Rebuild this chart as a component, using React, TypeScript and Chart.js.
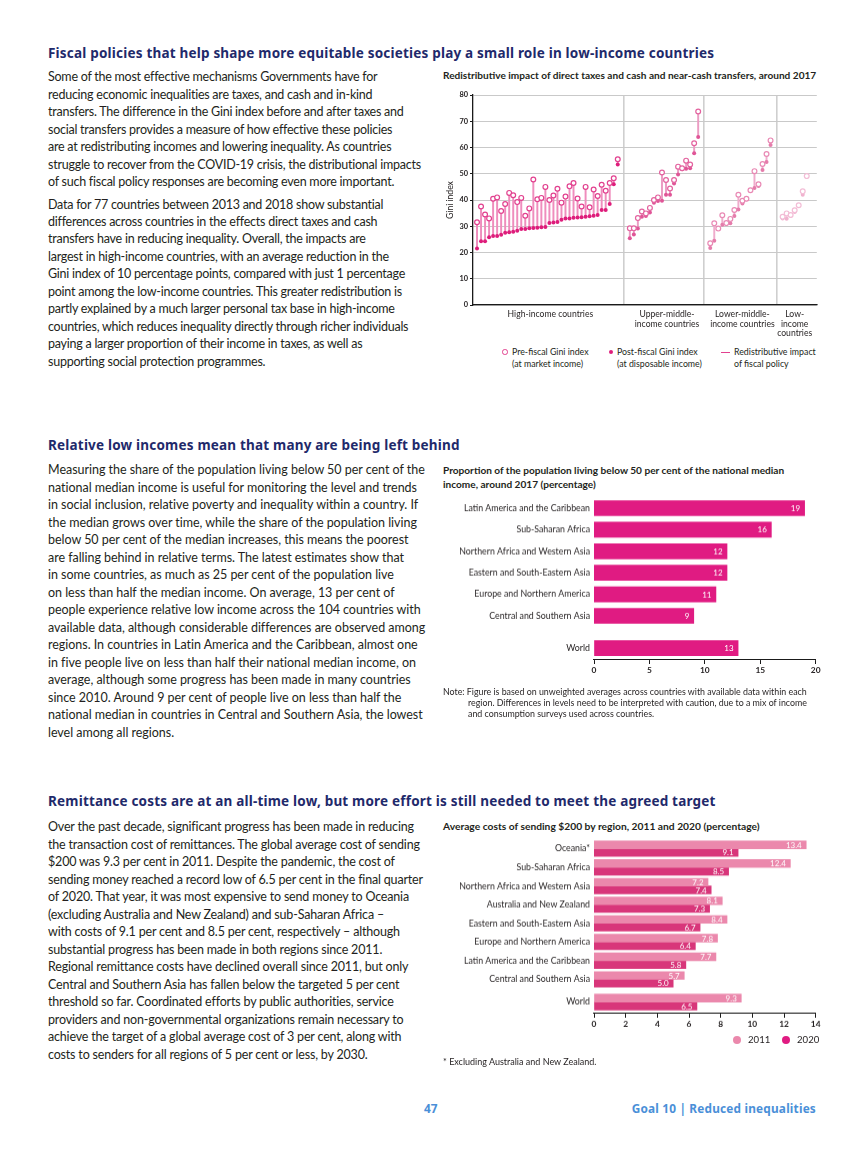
import React, { useEffect, useRef } from 'react';
import { Chart, registerables } from 'chart.js';

Chart.register(...registerables);

const BODY = 'Lato, "Noto Sans", sans-serif';
const HEAD = '"Noto Sans", sans-serif';
const TEXT = '#231f20';
const NAVY = '#1f2a6b';

Chart.defaults.font.family = BODY;
Chart.defaults.color = TEXT;

// ---------- Chart 1: Gini lollipop ----------
const giniGroupLabels = [
  ['High-income countries'],
  ['Upper-middle-', 'income countries'],
  ['Lower-middle-', 'income countries'],
  ['Low-', 'income', 'countries'],
];
const giniYTicks = [0, 10, 20, 30, 40, 50, 60, 70, 80];

const highPre = [31.5, 37.5, 34.5, 33, 40.5, 41, 35.8, 38.5, 42.7, 41.8, 39.2, 40.8, 34, 36.8, 47.8, 40.3, 40.8, 45, 40, 41.7, 44.3, 39, 41.3, 45.2, 46.5, 40.6, 37.5, 45, 37.2, 44, 41.5, 45.8, 43.5, 46.5, 48.3, 55.5];
const highPost = [21.5, 24.3, 24.3, 25.8, 26.3, 26.3, 26.8, 27.5, 27.7, 27.9, 28.3, 29, 29, 29.2, 29.3, 29.4, 29.6, 29.7, 31.2, 31.4, 31.6, 32.5, 33, 33, 33.2, 33.3, 33.4, 33.6, 33.8, 34, 34.3, 36.2, 36.2, 38.5, 46, 53.5];
const upperPre = [29.2, 29.2, 33.1, 35.6, 34.9, 37, 40, 41, 50.5, 47.6, 44.4, 47.6, 52.7, 52.1, 55, 53.5, 61.6, 73.7];
const upperPost = [25.4, 26.9, 29.1, 33.6, 33.9, 35.2, 39, 39.6, 39.7, 42, 42, 46.3, 49.7, 51.7, 51.9, 52.1, 57.8, 64];
const lowerPre = [23.5, 31.1, 29.1, 34.2, 31.2, 32.8, 36.2, 42, 39.7, 40.5, 43.7, 51, 46, 53.7, 57.5, 62.7];
const lowerPost = [21.7, 24.5, 29, 30.6, 30.9, 31.1, 33.9, 36.4, 38.7, 40.3, 43.5, 44.6, 45.3, 51.4, 54.5, 61];
const lowPre = [33.6, 34.9, 34.3, 36.1, 38, 43.3, 49.1];
const lowPost = [33, 32.9, 34, 35.4, 38, 42, 48.8];

const giniColors = [
  { pre: '#e2418f', post: '#de1d7b', line: '#ef8dbd' },
  { pre: '#e3639f', post: '#e05597', line: '#eb9cc3' },
  { pre: '#e98ab5', post: '#e57cab', line: '#efaccc' },
  { pre: '#f3bdd6', post: '#f0b2ce', line: '#f6cfe1' },
];

// ---------- Chart 2: relative low income ----------
const lowIncRegions = [
  'Latin America and the Caribbean',
  'Sub-Saharan Africa',
  'Northern Africa and Western Asia',
  'Eastern and South-Eastern Asia',
  'Europe and Northern America',
  'Central and Southern Asia',
];
const lowIncValues = [19, 16, 12, 12, 11, 9];
const lowIncWorldLabel = ['World'];
const lowIncWorld = [13];
const lowIncTicks = [0, 5, 10, 15, 20];

// ---------- Chart 3: remittance costs ----------
const remitRegions = [
  'Oceania*',
  'Sub-Saharan Africa',
  'Northern Africa and Western Asia',
  'Australia and New Zealand',
  'Eastern and South-Eastern Asia',
  'Europe and Northern America',
  'Latin America and the Caribbean',
  'Central and Southern Asia',
];
const remit2011 = [13.4, 12.4, 7.2, 8.1, 8.4, 7.8, 7.7, 5.7];
const remit2020 = [9.1, 8.5, 7.4, 7.3, 6.7, 6.4, 5.8, 5.0];
const remitWorldLabel = ['World'];
const remitWorld2011 = [9.3];
const remitWorld2020 = [6.5];
const remitTicks = [0, 2, 4, 6, 8, 10, 12, 14];
const remitSeries = ['2011', '2020'];
const C2011 = '#eb88ac';
const C2020 = '#d8367a';
const MAGENTA = '#e01b82';

// ---------- Texts ----------
const h1 = 'Fiscal policies that help shape more equitable societies play a small role in low-income countries';
const p1a = [
  'Some of the most effective mechanisms Governments have for',
  'reducing economic inequalities are taxes, and cash and in-kind',
  'transfers. The difference in the Gini index before and after taxes and',
  'social transfers provides a measure of how effective these policies',
  'are at redistributing incomes and lowering inequality. As countries',
  'struggle to recover from the COVID-19 crisis, the distributional impacts',
  'of such fiscal policy responses are becoming even more important.',
];
const p1b = [
  'Data for 77 countries between 2013 and 2018 show substantial',
  'differences across countries in the effects direct taxes and cash',
  'transfers have in reducing inequality. Overall, the impacts are',
  'largest in high-income countries, with an average reduction in the',
  'Gini index of 10 percentage points, compared with just 1 percentage',
  'point among the low-income countries. This greater redistribution is',
  'partly explained by a much larger personal tax base in high-income',
  'countries, which reduces inequality directly through richer individuals',
  'paying a larger proportion of their income in taxes, as well as',
  'supporting social protection programmes.',
];
const h2 = 'Relative low incomes mean that many are being left behind';
const p2 = [
  'Measuring the share of the population living below 50 per cent of the',
  'national median income is useful for monitoring the level and trends',
  'in social inclusion, relative poverty and inequality within a country. If',
  'the median grows over time, while the share of the population living',
  'below 50 per cent of the median increases, this means the poorest',
  'are falling behind in relative terms. The latest estimates show that',
  'in some countries, as much as 25 per cent of the population live',
  'on less than half the median income. On average, 13 per cent of',
  'people experience relative low income across the 104 countries with',
  'available data, although considerable differences are observed among',
  'regions. In countries in Latin America and the Caribbean, almost one',
  'in five people live on less than half their national median income, on',
  'average, although some progress has been made in many countries',
  'since 2010. Around 9 per cent of people live on less than half the',
  'national median in countries in Central and Southern Asia, the lowest',
  'level among all regions.',
];
const h3 = 'Remittance costs are at an all-time low, but more effort is still needed to meet the agreed target';
const p3 = [
  'Over the past decade, significant progress has been made in reducing',
  'the transaction cost of remittances. The global average cost of sending',
  '$200 was 9.3 per cent in 2011. Despite the pandemic, the cost of',
  'sending money reached a record low of 6.5 per cent in the final quarter',
  'of 2020. That year, it was most expensive to send money to Oceania',
  '(excluding Australia and New Zealand) and sub-Saharan Africa –',
  'with costs of 9.1 per cent and 8.5 per cent, respectively – although',
  'substantial progress has been made in both regions since 2011.',
  'Regional remittance costs have declined overall since 2011, but only',
  'Central and Southern Asia has fallen below the targeted 5 per cent',
  'threshold so far. Coordinated efforts by public authorities, service',
  'providers and non-governmental organizations remain necessary to',
  'achieve the target of a global average cost of 3 per cent, along with',
  'costs to senders for all regions of 5 per cent or less, by 2030.',
];

// ---------- helpers ----------
const abs = (left: number, top: number, extra: React.CSSProperties = {}): React.CSSProperties => ({
  position: 'absolute',
  left,
  top,
  whiteSpace: 'nowrap',
  ...extra,
});

function Para({ lines, left, top, size = 12.5, lh = 17.55, ls = 0 }: { lines: string[]; left: number; top: number; size?: number; lh?: number; ls?: number }) {
  return (
    <div style={abs(left, top, { fontFamily: BODY, fontSize: size, lineHeight: lh + 'px', color: TEXT, letterSpacing: ls })}>
      {lines.map((l, i) => (
        <div key={i}>{l}</div>
      ))}
    </div>
  );
}

function Heading({ text, top }: { text: string; top: number }) {
  return (
    <div style={abs(48, top, { fontFamily: HEAD, fontWeight: 700, fontSize: 13.5, lineHeight: '18px', color: NAVY, letterSpacing: 0.2 })}>
      {text}
    </div>
  );
}

// ---------- Gini chart ----------
function GiniChart() {
  const ref = useRef<HTMLCanvasElement | null>(null);
  useEffect(() => {
    const groups = [
      { pre: highPre, post: highPost },
      { pre: upperPre, post: upperPost },
      { pre: lowerPre, post: lowerPost },
      { pre: lowPre, post: lowPost },
    ];
    const pts: { x: number; pre: number; post: number; g: number }[] = [];
    const seps: number[] = [];
    const centers: number[] = [];
    let x = 1;
    groups.forEach((g, gi) => {
      const start = x;
      g.pre.forEach((v, i) => {
        pts.push({ x, pre: v, post: g.post[i], g: gi });
        x += 1;
      });
      const end = x - 1;
      centers.push((start + end) / 2);
      if (gi < groups.length - 1) {
        seps.push(end + 1.5);
        x = end + 3;
      }
    });
    const xMax = x - 1 + 2.5;
    const labelShift = [3, 3, 2, 0];

    const labelPlugin = {
      id: 'groupLabels',
      afterDraw(chart: any) {
        const { ctx, chartArea } = chart;
        const xs = chart.scales.x;
        ctx.save();
        ctx.fillStyle = TEXT;
        ctx.font = `8.6px ${BODY}`;
        ctx.textAlign = 'center';
        ctx.textBaseline = 'middle';
        giniGroupLabels.forEach((lines, gi) => {
          const cx = xs.getPixelForValue(centers[gi]) + labelShift[gi];
          lines.forEach((l, li) => {
            ctx.fillText(l, cx, chartArea.bottom + 9.5 + li * 9.6);
          });
        });
        ctx.restore();
      },
    };

    const chart = new Chart(ref.current as HTMLCanvasElement, {
      type: 'scatter',
      data: {
        datasets: [
          {
            type: 'bar',
            data: pts.map((p) => ({ x: p.x, y: [p.post, p.pre] })) as any,
            backgroundColor: pts.map((p) => giniColors[p.g].line),
            barThickness: 1.3,
            grouped: false,
            order: 3,
          } as any,
          {
            type: 'scatter',
            data: pts.map((p) => ({ x: p.x, y: p.post })),
            pointRadius: 2,
            pointBackgroundColor: pts.map((p) => giniColors[p.g].post),
            pointBorderWidth: 0,
            order: 2,
          },
          {
            type: 'scatter',
            data: pts.map((p) => ({ x: p.x, y: p.pre })),
            pointRadius: 2.4,
            pointBackgroundColor: '#ffffff',
            pointBorderColor: pts.map((p) => giniColors[p.g].pre),
            pointBorderWidth: 1.2,
            order: 1,
          },
        ],
      },
      options: {
        animation: false,
        responsive: false,
        maintainAspectRatio: false,
        layout: { padding: { top: 10, right: 2, left: 0, bottom: 0 } },
        plugins: { legend: { display: false }, tooltip: { enabled: false } },
        scales: {
          x: {
            type: 'linear',
            offset: false,
            min: 0,
            max: xMax,
            afterBuildTicks: (s: any) => {
              s.ticks = seps.map((v) => ({ value: v }));
            },
            afterFit: (s: any) => {
              s.height = 32;
            },
            ticks: { display: false },
            grid: { offset: false, color: '#cfcfcf', lineWidth: 1.6, drawTicks: false },
            border: { color: '#1a1a1a', width: 1.3 },
          },
          y: {
            min: 0,
            max: 80,
            afterBuildTicks: (s: any) => {
              s.ticks = giniYTicks.map((v) => ({ value: v }));
            },
            afterFit: (s: any) => {
              s.width = 33;
            },
            title: { display: true, text: 'Gini index', font: { size: 8.6 }, color: TEXT, padding: { top: 5, bottom: 0 } },
            ticks: { font: { size: 7.4, weight: 'bold' }, color: TEXT, padding: 2 },
            grid: { color: '#c9c9c9', lineWidth: 1, tickColor: '#1a1a1a', tickLength: 3 },
            border: { color: '#1a1a1a', width: 1.3 },
          },
        },
      } as any,
      plugins: [labelPlugin],
    });
    return () => chart.destroy();
  }, []);
  return <canvas ref={ref} width={382} height={252} style={{ position: 'absolute', left: 440, top: 85, width: 382, height: 252 }} />;
}

// ---------- Horizontal bar charts ----------
type Series = { label: string; data: number[]; color: string };
type HBarProps = {
  labels: string[];
  series: Series[];
  plotTop: number;
  plotH: number;
  thickness: number;
  xMax: number;
  ticks: number[];
  showAxis: boolean;
  decimals: number;
  labelSize: number;
};

function HBar(props: HBarProps) {
  const ref = useRef<HTMLCanvasElement | null>(null);
  const tickPad = 4;
  const axisH = props.showAxis ? 18 : 0;
  // Chart.js reserves half a label height plus the tick padding above/below a vertical axis
  const pad = (props.labelSize * 1.2) / 2 + tickPad;
  const top = props.plotTop - pad;
  const height = pad + props.plotH + (props.showAxis ? axisH : pad);
  useEffect(() => {
    const valuePlugin = {
      id: 'values',
      afterDatasetsDraw(chart: any) {
        const ctx = chart.ctx;
        ctx.save();
        ctx.fillStyle = '#ffffff';
        ctx.font = `8px ${BODY}`;
        ctx.textAlign = 'right';
        ctx.textBaseline = 'middle';
        chart.data.datasets.forEach((ds: any, di: number) => {
          chart.getDatasetMeta(di).data.forEach((el: any, i: number) => {
            const v = ds.data[i] as number;
            ctx.fillText(v.toFixed(props.decimals), el.x - 4.5, el.y + 0.5);
          });
        });
        ctx.restore();
      },
    };
    const chart = new Chart(ref.current as HTMLCanvasElement, {
      type: 'bar',
      data: {
        labels: props.labels,
        datasets: props.series.map((s) => ({
          label: s.label,
          data: s.data,
          backgroundColor: s.color,
          barThickness: props.thickness,
        })),
      },
      options: {
        indexAxis: 'y',
        animation: false,
        responsive: false,
        maintainAspectRatio: false,
        layout: { padding: { top: 0, right: 6.3, left: 0, bottom: 0 } },
        plugins: { legend: { display: false }, tooltip: { enabled: false } },
        scales: {
          x: {
            display: props.showAxis,
            min: 0,
            max: props.xMax,
            afterBuildTicks: (s: any) => {
              s.ticks = props.ticks.map((v) => ({ value: v }));
            },
            afterFit: (s: any) => {
              s.height = axisH;
            },
            ticks: { font: { size: 8.4, weight: 'bold' }, color: TEXT, padding: 1 },
            grid: { drawOnChartArea: false, drawTicks: true, tickLength: 4, tickColor: '#1a1a1a', color: '#1a1a1a' },
            border: { color: '#1a1a1a', width: 1.1 },
          },
          y: {
            afterFit: (s: any) => {
              s.width = 154;
            },
            grid: { display: false, drawTicks: false },
            border: { display: false },
            ticks: { font: { size: props.labelSize }, color: TEXT, padding: tickPad },
          },
        },
      } as any,
      plugins: [valuePlugin],
    });
    return () => chart.destroy();
  }, []);
  return <canvas ref={ref} width={382} height={height} style={{ position: 'absolute', left: 440, top, width: 382, height }} />;
}

export default function App() {
  return (
    <div style={{ position: 'absolute', left: 0, top: 0, width: 864, height: 1152, background: '#fff', overflow: 'hidden' }}>
      {/* Section 1 */}
      <Heading text={h1} top={44} />
      <Para lines={p1a} left={48} top={68} ls={-0.245} />
      <Para lines={p1b} left={48} top={195.5} lh={17.45} ls={-0.245} />
      <div style={abs(443, 68, { fontFamily: BODY, fontWeight: 700, fontSize: 10.1, lineHeight: '14px', color: TEXT })}>
        Redistributive impact of direct taxes and cash and near-cash transfers, around 2017
      </div>
      <GiniChart />
      {/* Gini legend */}
      <div style={abs(502, 346, { fontFamily: BODY, fontSize: 8.8, lineHeight: '11.5px', color: TEXT })}>
        <span style={{ position: 'absolute', left: 0, top: 3, width: 3.5, height: 3.5, borderRadius: '50%', border: '1.2px solid #e2418f' }} />
        <div style={{ position: 'absolute', left: 10, top: 0 }}>Pre-fiscal Gini index</div>
        <div style={{ position: 'absolute', left: 10, top: 11.5 }}>(at market income)</div>
      </div>
      <div style={abs(608, 346, { fontFamily: BODY, fontSize: 8.8, lineHeight: '11.5px', color: TEXT })}>
        <span style={{ position: 'absolute', left: 0.5, top: 3.5, width: 4.5, height: 4.5, borderRadius: '50%', background: '#de1d7b' }} />
        <div style={{ position: 'absolute', left: 9, top: 0 }}>Post-fiscal Gini index</div>
        <div style={{ position: 'absolute', left: 9, top: 11.5 }}>(at disposable income)</div>
      </div>
      <div style={abs(721, 346, { fontFamily: BODY, fontSize: 8.8, lineHeight: '11.5px', color: TEXT })}>
        <span style={{ position: 'absolute', left: 0, top: 5.5, width: 9, height: 1.3, background: '#e2418f' }} />
        <div style={{ position: 'absolute', left: 13, top: 0 }}>Redistributive impact</div>
        <div style={{ position: 'absolute', left: 13, top: 11.5 }}>of fiscal policy</div>
      </div>

      {/* Section 2 */}
      <Heading text={h2} top={436} />
      <Para lines={p2} left={48} top={461} lh={17.5} ls={-0.03} />
      <div style={abs(443, 463, { fontFamily: BODY, fontWeight: 700, fontSize: 10.1, lineHeight: '14px', color: TEXT })}>
        <div>Proportion of the population living below 50 per cent of the national median</div>
        <div>income, around 2017 (percentage)</div>
      </div>
      <HBar
        labels={lowIncRegions}
        series={[{ label: 'value', data: lowIncValues, color: MAGENTA }]}
        plotTop={497.5}
        plotH={129}
        thickness={15}
        xMax={20}
        ticks={lowIncTicks}
        showAxis={false}
        decimals={0}
        labelSize={8.8}
      />
      <HBar
        labels={lowIncWorldLabel}
        series={[{ label: 'value', data: lowIncWorld, color: MAGENTA }]}
        plotTop={636}
        plotH={24.5}
        thickness={15}
        xMax={20}
        ticks={lowIncTicks}
        showAxis={true}
        decimals={0}
        labelSize={8.8}
      />
      <div style={abs(443, 686, { fontFamily: BODY, fontSize: 8.85, lineHeight: '11px', color: TEXT })}>
        <div>Note: Figure is based on unweighted averages across countries with available data within each</div>
        <div style={{ paddingLeft: 25 }}>region. Differences in levels need to be interpreted with caution, due to a mix of income</div>
        <div style={{ paddingLeft: 25 }}>and consumption surveys used across countries.</div>
      </div>

      {/* Section 3 */}
      <Heading text={h3} top={792} />
      <Para lines={p3} left={48} top={818} lh={17.5} ls={-0.18} />
      <div style={abs(443, 819, { fontFamily: BODY, fontWeight: 700, fontSize: 10.25, lineHeight: '14px', color: TEXT })}>
        Average costs of sending $200 by region, 2011 and 2020 (percentage)
      </div>
      <HBar
        labels={remitRegions}
        series={[
          { label: remitSeries[0], data: remit2011, color: C2011 },
          { label: remitSeries[1], data: remit2020, color: C2020 },
        ]}
        plotTop={839.7}
        plotH={149.3}
        thickness={7.7}
        xMax={14}
        ticks={remitTicks}
        showAxis={false}
        decimals={1}
        labelSize={8.8}
      />
      <HBar
        labels={remitWorldLabel}
        series={[
          { label: remitSeries[0], data: remitWorld2011, color: C2011 },
          { label: remitSeries[1], data: remitWorld2020, color: C2020 },
        ]}
        plotTop={990.6}
        plotH={23.4}
        thickness={7.7}
        xMax={14}
        ticks={remitTicks}
        showAxis={true}
        decimals={1}
        labelSize={8.8}
      />
      <div style={abs(733, 1033, { fontFamily: BODY, fontSize: 9.6, lineHeight: '14px', color: TEXT })}>
        <span style={{ position: 'absolute', left: 0, top: 3, width: 8, height: 8, borderRadius: '50%', background: C2011 }} />
        <span style={{ position: 'absolute', left: 15, top: 0 }}>{remitSeries[0]}</span>
        <span style={{ position: 'absolute', left: 49, top: 3, width: 8, height: 8, borderRadius: '50%', background: MAGENTA }} />
        <span style={{ position: 'absolute', left: 64, top: 0 }}>{remitSeries[1]}</span>
      </div>
      <div style={abs(443, 1056, { fontFamily: BODY, fontSize: 9, lineHeight: '12px', color: TEXT })}>
        * Excluding Australia and New Zealand.
      </div>

      {/* Footer */}
      <div style={abs(424, 1100, { fontFamily: HEAD, fontWeight: 700, fontSize: 11.8, lineHeight: '16px', color: '#4a8fd8' })}>47</div>
      <div style={abs(616, 1100, { fontFamily: HEAD, fontWeight: 700, fontSize: 11.8, lineHeight: '16px', color: '#4a8fd8', width: 200, textAlign: 'right', letterSpacing: 0.2 })}>
        Goal 10 | Reduced inequalities
      </div>
    </div>
  );
}
